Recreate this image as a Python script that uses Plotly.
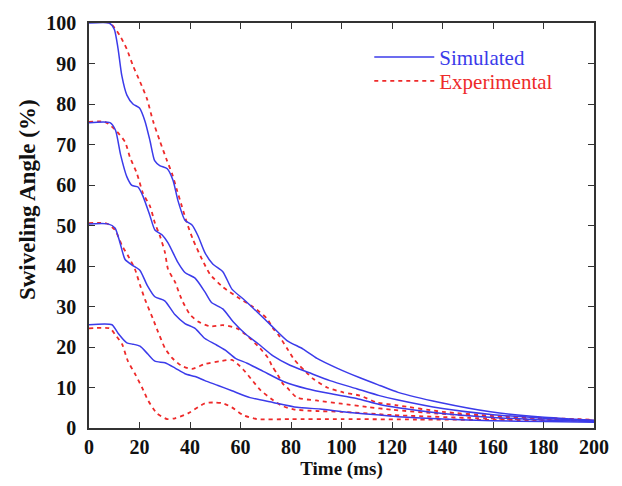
import plotly.graph_objects as go

# Time axis (ms) and swiveling angle (%) for each starting angle
sim100_t = [0, 8, 10, 11.5, 13, 15, 17.4, 20, 22.2, 24.2, 26, 28, 31, 33.3, 35.2, 38, 40.8, 43.2, 45.9, 49, 53, 56.6, 61, 66.5, 72.5, 78.4, 84.8, 90.3, 98.2, 107.3, 115.2, 122.4, 139, 159, 179, 200]
sim100_y = [100, 100, 98.5, 93.7, 87, 82.2, 80, 79, 75.7, 70.8, 66, 64.8, 64, 61.1, 56.2, 51.3, 50.1, 47.4, 43.3, 40.5, 38.6, 34.3, 31.9, 28.7, 25.1, 21.6, 19.5, 17.2, 14.8, 12.4, 10.5, 8.8, 6.3, 4.0, 2.7, 1.9]

sim75_t = [0, 8.3, 10.5, 12.5, 15, 17, 19.4, 21.4, 24.2, 26.1, 28.9, 31.3, 35.2, 38, 42, 45.9, 48.5, 53, 57, 62, 67, 72.9, 79.6, 87, 95.4, 106, 115, 122.4, 140, 160, 180, 200]
sim75_y = [75.4, 75.4, 73.5, 67.5, 62, 59.9, 59.5, 57.2, 52.3, 48.9, 47.7, 45.7, 40.9, 38.4, 37, 33.6, 31, 29.4, 26.3, 23.2, 20.8, 17.8, 15.5, 13.7, 11.7, 9.7, 8, 6.9, 4.8, 3.3, 2.4, 1.7]

sim50_t = [0, 7.5, 10.3, 12.3, 14.3, 17.4, 20.2, 23, 26.1, 30, 34, 38, 42, 45.9, 49.9, 54, 58, 62.6, 69, 77, 86.3, 95.4, 106, 115, 122.4, 140, 160, 180, 200]
sim50_y = [50.4, 50.4, 49.4, 45.7, 41.6, 40.1, 38.9, 35.3, 32.4, 31.4, 28, 25.8, 24.6, 22.1, 20.7, 19.2, 17.2, 16, 14, 11.5, 9.7, 8.5, 7.3, 5.8, 5, 3.6, 2.6, 2.0, 1.6]

sim25_t = [0, 9.1, 11.5, 15, 17.4, 20.2, 23.4, 26.1, 30.1, 34.1, 38, 42, 45.9, 51.1, 56.6, 63.8, 72.9, 82.4, 91.5, 102.2, 115.2, 122.4, 140, 160, 180, 200]
sim25_y = [25.5, 25.5, 23.4, 21, 20.7, 20.2, 18.2, 16.5, 16.1, 14.8, 13.4, 12.7, 11.7, 10.5, 9.2, 7.5, 6.3, 5.1, 4.7, 3.9, 3.2, 2.8, 2.2, 1.8, 1.6, 1.4]

exp100_t = [0, 8.3, 12.3, 15, 17.4, 20.2, 23, 25.3, 28.1, 30.9, 32.9, 34.9, 36.8, 38.8, 41.2, 44.8, 47.9, 53, 59.8, 65, 70.5, 72.9, 74.9, 78.4, 80.8, 82.8, 85.5, 88.7, 94.3, 100.6, 107.3, 114.1, 122, 140, 160, 180, 200]
exp100_y = [100.3, 100, 96.8, 93.5, 89.5, 85.5, 81.2, 75.9, 70.8, 66, 62.8, 58.6, 54.7, 50.6, 46.5, 41.6, 38, 34.8, 31.9, 29.9, 27, 24.6, 23.1, 19.7, 17.3, 15.8, 14.1, 12.2, 10, 8.8, 8, 6.3, 5.6, 4, 3, 2.5, 2]

exp75_t = [0, 6.3, 10.3, 14.3, 16.2, 19, 21.4, 24.2, 26.1, 28.1, 30.1, 31.3, 34.1, 36, 37.2, 40, 43.2, 47.9, 53, 58.6, 63, 67.7, 70.9, 72.5, 74.5, 76.8, 78.4, 82.4, 90, 100, 110, 120, 140, 160, 200]
exp75_y = [75.6, 75.6, 73.7, 70.6, 66.9, 62.8, 57.9, 54.7, 50.6, 47.4, 43.3, 39.2, 36, 32.8, 31.1, 28, 26.3, 25.1, 25.4, 24.6, 22.6, 19.7, 17.3, 15.3, 13.4, 10.9, 10, 7.5, 6.8, 6, 5.2, 4.5, 3.5, 2.8, 2]

exp50_t = [0, 7, 10.3, 13.1, 15.4, 18.2, 20.2, 22.2, 25.3, 27.3, 30.1, 32.9, 36.8, 40.8, 45.9, 51.9, 56.6, 61, 65, 68, 72, 76, 81, 90, 100, 120, 150, 200]
exp50_y = [50.6, 50.5, 48.9, 45, 42.6, 39.2, 35.3, 31.7, 27, 23.8, 19.7, 17.3, 15.3, 14.6, 15.8, 16.5, 16.8, 14.5, 11.5, 9.3, 7.3, 5.6, 4.6, 4.2, 4, 3.2, 2.5, 1.8]

exp25_t = [0, 8.3, 10.3, 13.1, 15.4, 18.2, 21, 23.4, 26.9, 30.9, 34.1, 39.2, 45.9, 49.9, 53, 56.6, 61, 66.5, 80, 100, 130, 160, 200]
exp25_y = [24.6, 24.6, 23.1, 20.7, 16.5, 13.4, 10, 6.8, 3.6, 2.2, 2.4, 3.6, 6.1, 6.3, 6.1, 5.1, 3.2, 2.2, 2.2, 2.2, 2.1, 2.0, 1.9]

x_ticks = [0, 20, 40, 60, 80, 100, 120, 140, 160, 180, 200]
y_ticks = [0, 10, 20, 30, 40, 50, 60, 70, 80, 90, 100]

BLUE = "#3b3bea"
RED = "#ee2a2a"
SERIF = "Liberation Serif, Times New Roman, serif"
INK = "#111111"

fig = go.Figure()

simulated = [(sim100_t, sim100_y), (sim75_t, sim75_y), (sim50_t, sim50_y), (sim25_t, sim25_y)]
experimental = [(exp100_t, exp100_y), (exp75_t, exp75_y), (exp50_t, exp50_y), (exp25_t, exp25_y)]

for i, (t, y) in enumerate(experimental):
    fig.add_trace(go.Scatter(
        x=t, y=y, mode="lines",
        line=dict(color=RED, width=1.8, dash="4px,4px", shape="spline", smoothing=0.6),
        name=f'<span style="color:{RED}">Experimental</span>',
        legend="legend2", legendgroup="exp", showlegend=(i == 0),
    ))

for i, (t, y) in enumerate(simulated):
    fig.add_trace(go.Scatter(
        x=t, y=y, mode="lines",
        line=dict(color=BLUE, width=1.5, shape="spline", smoothing=0.6),
        name=f'<span style="color:{BLUE}">Simulated</span>',
        legend="legend", legendgroup="sim", showlegend=(i == 0),
    ))

axis_common = dict(
    showline=True, linecolor="#333333", linewidth=1.5, mirror="ticks",
    ticks="inside", ticklen=6, tickwidth=1.2, tickcolor="#333333",
    showgrid=False, zeroline=False,
    tickfont=dict(family=SERIF, size=20, color=INK, weight="bold"),
)

fig.update_xaxes(
    range=[0, 200], tickvals=x_ticks, ticktext=[str(v) for v in x_ticks],
    ticklabelstandoff=0,
    title=dict(text="<b>Time (ms)</b>", font=dict(family=SERIF, size=19, color=INK), standoff=2),
    **axis_common,
)
fig.update_yaxes(
    range=[0, 100], tickvals=y_ticks, ticktext=[str(v) for v in y_ticks],
    ticklabelstandoff=7,
    **axis_common,
)

# vertical axis title
fig.add_annotation(
    text="<b>Swiveling Angle (%)</b>", textangle=-90,
    xref="paper", yref="paper", x=-0.123, y=0.565,
    xanchor="center", yanchor="middle", showarrow=False,
    font=dict(family=SERIF, size=23, color=INK),
)

legend_style = dict(
    x=0.555, xanchor="left", yanchor="middle",
    bgcolor="rgba(0,0,0,0)", borderwidth=0,
    font=dict(family=SERIF, size=21),
    itemwidth=60,
)

fig.update_layout(
    width=622, height=486,
    margin=dict(l=89, r=28, t=17, b=58),
    paper_bgcolor="white", plot_bgcolor="white",
    legend=dict(y=0.915, **legend_style),
    legend2=dict(y=0.856, **legend_style),
)

fig.write_html("out.html")
